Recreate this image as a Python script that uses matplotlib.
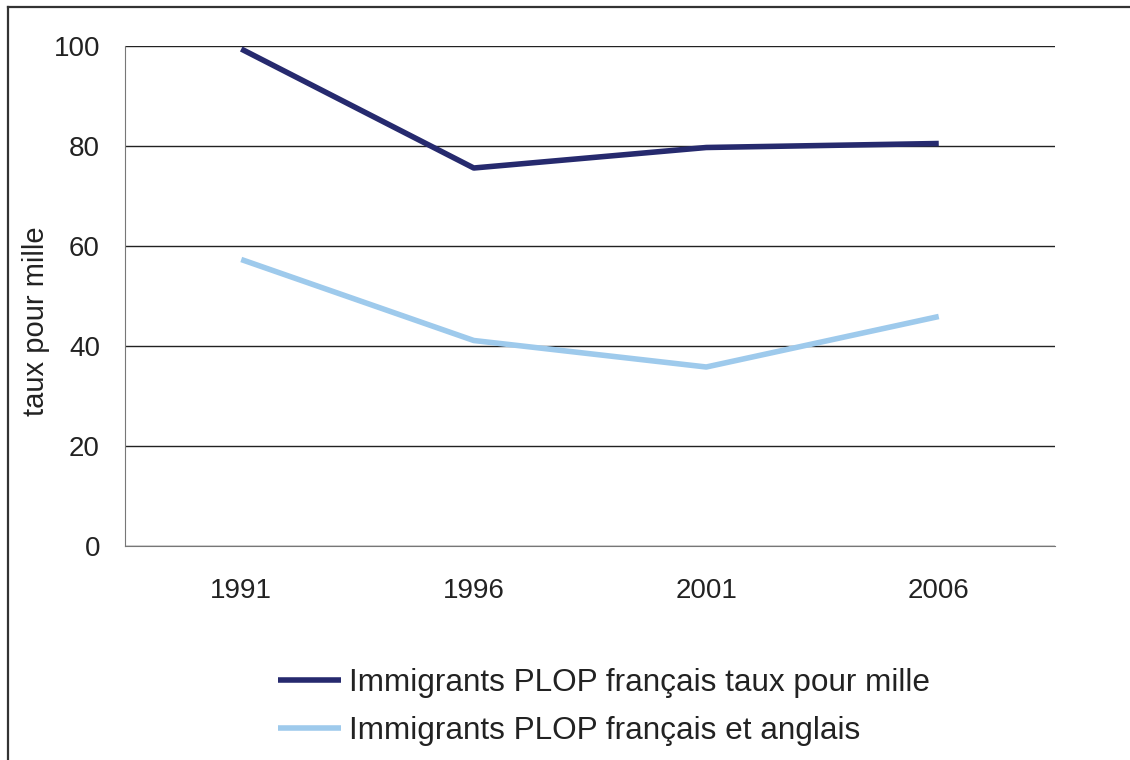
import matplotlib
matplotlib.use('Agg')
from matplotlib import pyplot as plt
from matplotlib.lines import Line2D

annees = ['1991', '1996', '2001', '2006']
francais = [99.4, 75.6, 79.7, 80.5]
francais_anglais = [57.3, 41.1, 35.8, 45.9]
etiquettes = ['Immigrants PLOP français taux pour mille',
              'Immigrants PLOP français et anglais']

plt.rcParams['font.family'] = ['Liberation Sans', 'DejaVu Sans']

fig = plt.figure(figsize=(11.3, 7.6), dpi=100)
ax = fig.add_axes([125/1130, 1 - 546/760, 930/1130, 500/760])

x = range(len(annees))
ax.plot(x, francais, color='#262a6e', lw=4, label=etiquettes[0], solid_capstyle='butt')
ax.plot(x, francais_anglais, color='#9ecaec', lw=4, label=etiquettes[1], solid_capstyle='butt')

ax.set_xlim(-0.5, 3.5)
ax.set_ylim(0, 100)
ax.set_yticks([0, 20, 40, 60, 80, 100])
ax.set_xticks(list(x))
ax.set_xticklabels(annees)
ax.yaxis.grid(True, color='#222222', lw=1.0)
ax.set_axisbelow(True)
for s in ['top', 'right']:
    ax.spines[s].set_visible(False)
ax.spines['left'].set_color('#777777')
ax.spines['bottom'].set_color('#777777')
ax.tick_params(axis='both', length=0, labelsize=20, colors='#222222')
ax.tick_params(axis='y', pad=18)
ax.tick_params(axis='x', pad=23)
ax.set_ylabel('taux pour mille', fontsize=21, color='#222222', va='center')
ax.yaxis.set_label_coords(-0.096, 0.45)

fig.legend(loc='center left', bbox_to_anchor=(250/1130, 1 - 707/760), frameon=False,
           fontsize=22.7, handlelength=2.0, handletextpad=0.25, labelspacing=0.55,
           labelcolor='#222222')

# cadre extérieur
fig.add_artist(Line2D([8/1130, 8/1130], [0, 1 - 7/760], transform=fig.transFigure,
                      color='#333333', lw=1.6))
fig.add_artist(Line2D([8/1130, 1], [1 - 7/760, 1 - 7/760], transform=fig.transFigure,
                      color='#333333', lw=1.6))

fig.savefig('out.png', dpi=100)
